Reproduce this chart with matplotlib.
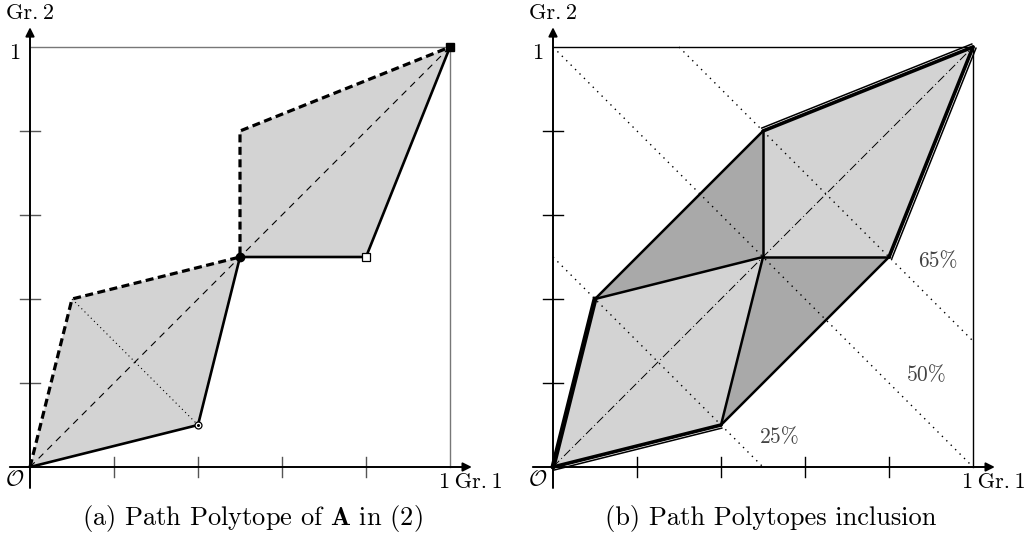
import numpy as np
import matplotlib.pyplot as plt
from matplotlib.transforms import offset_copy

plt.rcParams['font.family'] = ['cmr10', 'DejaVu Serif']
plt.rcParams['mathtext.fontset'] = 'cm'
plt.rcParams['axes.unicode_minus'] = False

# sommets des chemins (Gr. 1, Gr. 2)
upper_x = [0, 0.1, 0.5, 0.5, 1]
upper_y = [0, 0.4, 0.5, 0.8, 1]
lower_x = [0, 0.4, 0.5, 0.8, 1]
lower_y = [0, 0.1, 0.5, 0.5, 1]
ticks = [0.2, 0.4, 0.6, 0.8]
# lignes de niveau x + y = c
levels = [0.5, 1.0, 1.3]
level_labels = ['25%', '50%', '65%']
level_label_pos = [(0.54, 0.07), (0.89, 0.217), (0.917, 0.49)]

light = '#d3d3d3'
dark = '#a9a9a9'
unit = 420.0  # pixels par unite


def make_axes(fig, left_px, origin_px):
    # axes placés pour que (0,0) tombe sur origin_px et 1 = 420 px
    ax = fig.add_axes([left_px / 1024, (539 - 500) / 539, 512 / 1024, 500 / 539])
    ox, oy = origin_px
    ax.set_xlim((left_px - ox) / unit, (left_px + 512 - ox) / unit)
    ax.set_ylim((oy - 500) / unit, oy / unit)
    ax.axis('off')
    return ax


def draw_frame(ax, col, tick_col):
    ax.plot([0, 1, 1], [1, 1, 0], color=col, lw=1.0)
    for t in ticks:
        ax.plot([t, t], [-0.024, 0.024], color=tick_col, lw=1.0)
        ax.plot([-0.024, 0.024], [t, t], color=tick_col, lw=1.0)
    ax.annotate('', xy=(1.052, 0), xytext=(-0.048, 0),
                arrowprops=dict(arrowstyle='-|>', lw=1.4, color='k', mutation_scale=13, shrinkA=0, shrinkB=0))
    ax.annotate('', xy=(0, 1.047), xytext=(0, -0.05),
                arrowprops=dict(arrowstyle='-|>', lw=1.4, color='k', mutation_scale=13, shrinkA=0, shrinkB=0))
    ax.text(0, 1.081, 'Gr.\u20092', ha='center', va='center', fontsize=16)
    ax.text(-0.036, 0.985, '1', ha='center', va='center', fontsize=16)
    ax.text(-0.036, -0.031, r'$\mathcal{O}$', ha='center', va='center', fontsize=16)
    ax.text(0.974, -0.036, '1\u2009Gr.\u20091', ha='left', va='center', fontsize=16)


def double_edge(ax, xs, ys, side):
    # trait epais + trait fin decale (polytopes emboites)
    ax.plot(xs, ys, color='k', lw=2.6, solid_capstyle='round', clip_on=False)
    dx, dy = xs[1] - xs[0], ys[1] - ys[0]
    n = np.hypot(dx, dy)
    ox, oy = side * dy / n * 3.2, -side * dx / n * 3.2
    tr = offset_copy(ax.transData, fig=ax.figure, x=ox, y=oy, units='dots')
    ax.plot(xs, ys, color='k', lw=1.1, transform=tr, clip_on=False)


fig = plt.figure(figsize=(10.24, 5.39), dpi=100)

# ---- (a) ----
ax1 = make_axes(fig, 0, (30, 467))
ax1.fill(upper_x + lower_x[::-1], upper_y + lower_y[::-1], color=light, lw=0)
ax1.plot([0, 1], [0, 1], color='k', lw=0.8, ls=(0, (6, 5)))
ax1.plot([upper_x[1], lower_x[1]], [upper_y[1], lower_y[1]], color='k', lw=0.8, ls=(0, (1, 3)))
draw_frame(ax1, '#777777', '#555555')
ax1.plot(upper_x, upper_y, color='k', lw=2.3, ls=(0, (2.5, 1.4)))
ax1.plot(lower_x, lower_y, color='k', lw=1.9, solid_capstyle='round')
ax1.plot(lower_x[1], lower_y[1], 'o', ms=5, mfc='white', mec='k', mew=0.9)
ax1.plot(lower_x[1], lower_y[1], 'o', ms=1.2, color='k')
ax1.plot(lower_x[2], lower_y[2], 'o', ms=6, color='k')
ax1.plot(lower_x[3], lower_y[3], 's', ms=5.5, mfc='white', mec='k', mew=0.9)
ax1.plot(lower_x[4], lower_y[4], 's', ms=6, color='k', clip_on=False)

# ---- (b) ----
ax2 = make_axes(fig, 512, (553, 467))
ax2.fill(upper_x + lower_x[::-1], upper_y + lower_y[::-1], color=light, lw=0)
ax2.fill([upper_x[1], upper_x[3], upper_x[2]], [upper_y[1], upper_y[3], upper_y[2]], color=dark, lw=0)
ax2.fill([lower_x[1], lower_x[2], lower_x[3]], [lower_y[1], lower_y[2], lower_y[3]], color=dark, lw=0)
for c in levels:
    x0 = max(0, c - 1)
    x1 = min(1, c)
    ax2.plot([x0, x1], [c - x0, c - x1], color='k', lw=1.0, ls=(0, (1, 3.5)))
for lab, (px, py) in zip(level_labels, level_label_pos):
    ax2.text(px, py, lab, ha='center', va='center', fontsize=15.5, color='#444444')
ax2.plot([0, 1], [0, 1], color='k', lw=0.7, ls=(0, (9, 3, 1, 3)))
draw_frame(ax2, 'k', 'k')

# aretes interieures
cx, cy = upper_x[2], upper_y[2]
for xs, ys in [(upper_x, upper_y), (lower_x, lower_y)]:
    ax2.plot([xs[1], cx], [ys[1], cy], color='k', lw=1.8)
    ax2.plot([xs[3], cx], [ys[3], cy], color='k', lw=1.8)
# enveloppe
ax2.plot(upper_x[:2], upper_y[:2], color='k', lw=3.6, solid_capstyle='round')
ax2.plot([upper_x[1], upper_x[3]], [upper_y[1], upper_y[3]], color='k', lw=1.8)
ax2.plot([lower_x[1], lower_x[3]], [lower_y[1], lower_y[3]], color='k', lw=1.8)
double_edge(ax2, [upper_x[3], upper_x[4]], [upper_y[3], upper_y[4]], -1)
double_edge(ax2, [lower_x[4], lower_x[3]], [lower_y[4], lower_y[3]], -1)
double_edge(ax2, lower_x[:2], lower_y[:2], 1)

fig.text(252 / 1024, 1 - 518 / 539, r'(a) Path Polytope of $\mathbf{A}$ in (2)',
         ha='center', va='center', fontsize=19)
fig.text(771 / 1024, 1 - 518 / 539, '(b) Path Polytopes inclusion',
         ha='center', va='center', fontsize=19)

fig.savefig('out.png', dpi=100)
